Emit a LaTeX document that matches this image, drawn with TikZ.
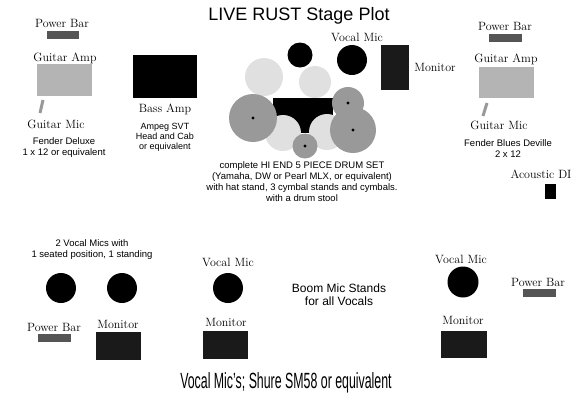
\documentclass[tikz,border=0pt]{standalone}
\usepackage{fontspec}
\setsansfont{Liberation Sans}
\usepackage{tikz}

\definecolor{barcol}{HTML}{555555}
\definecolor{ampcol}{HTML}{B4B4B4}
\definecolor{cymcol}{HTML}{E0E0E0}
\definecolor{tomcol}{HTML}{999999}
\definecolor{moncol}{HTML}{1A1A1A}

\tikzset{
  lbl/.style={inner sep=0pt, font=\fontsize{12}{13}\selectfont},
  note/.style={inner sep=0pt, align=center, font=\sffamily\fontsize{9.5}{11}\selectfont},
  bignote/.style={inner sep=0pt, align=center, font=\sffamily\fontsize{12}{13}\selectfont},
  title/.style={inner sep=0pt, font=\sffamily\fontsize{18}{20}\selectfont},
  micstick/.style={tomcol, line width=3pt},
}

\begin{document}
\begin{tikzpicture}[x=1pt,y=-1pt]
        \useasboundingbox (0,0) rectangle (582,400);
        \node [title] (title) at (299,16) {LIVE RUST Stage Plot};

        % left guitar
        \node [lbl] (pbarL) at (62,23) {Power Bar};
        \fill [barcol] (47,31) rectangle (79,39);
        \node [lbl] (gampL) at (65,58) {Guitar Amp};
        \fill [ampcol] (37,64) rectangle (92,96);
        \draw [micstick] (43,100)--(40,113);
        \node [lbl] (gmicL) at (56,124) {Guitar Mic};
        \node [note] (fenderL) at (64,148) {Fender Deluxe\\1 x 12 or equivalent};

        % bass
        \fill [black] (133,55) rectangle (197,98);
        \node [lbl] (bass) at (165,109) {Bass Amp};
        \node [note, font=\sffamily\fontsize{9}{10}\selectfont] (ampeg) at (165,137) {Ampeg SVT\\Head and Cab\\or equivalent};

        % drums
        \node [lbl] (vmD) at (357,37) {Vocal Mic};
        \fill [black] (300,55) circle (12.5);
        \fill [black] (352,60) circle (15);
        \fill [cymcol] (264,77) circle (19);
        \fill [cymcol] (315,82) circle (16);
        \fill [black] (273,98) rectangle (333,133);
        \fill [cymcol] (283,133) circle (18);
        \fill [cymcol] (327,132) circle (18);
        \fill [tomcol] (253,118) circle (24);
        \fill [tomcol] (305,146) circle (12.5);
        \fill [tomcol] (348,103) circle (16);
        \fill [tomcol] (353,130) circle (23);
        \foreach \p in {(253,118),(305,146),(348,103),(353,130)}
            \fill [black] \p circle (1.6);
        \node [note] (drumtxt) at (302,182) {complete HI END 5 PIECE DRUM SET\\(Yamaha, DW or Pearl MLX, or equivalent)\\with hat stand, 3 cymbal stands and cymbals.\\with a drum stool};

        % drum monitor
        \fill [moncol] (381,45) rectangle (409,90);
        \node [lbl] (monD) at (435,67) {Monitor};

        % right guitar
        \node [lbl] (pbarR) at (505,26) {Power Bar};
        \fill [barcol] (489,34) rectangle (522,42);
        \node [lbl] (gampR) at (506,59) {Guitar Amp};
        \fill [ampcol] (479,67) rectangle (534,98);
        \draw [micstick] (487,103)--(483,116);
        \node [lbl] (gmicR) at (499,125) {Guitar Mic};
        \node [note] (fenderR) at (508,149) {Fender Blues Deville\\2 x 12};
        \node [lbl] (adi) at (541,174) {Acoustic DI};
        \fill [black] (545,184) rectangle (556,199);

        % front line
        \node [note] (twovm) at (92,250) {2 Vocal Mics with\\1 seated position, 1 standing};
        \fill [black] (61,288) circle (15);
        \fill [black] (122,288) circle (15);
        \node [lbl] (vmC) at (228,262) {Vocal Mic};
        \fill [black] (228,288) circle (15);
        \node [bignote] (boom) at (339,295) {Boom Mic Stands\\for all Vocals};
        \node [lbl] (vmR) at (461,259) {Vocal Mic};
        \fill [black] (463,282) circle (15.5);
        \node [lbl] (pbarBR) at (538,282) {Power Bar};
        \fill [barcol] (523,289) rectangle (556,297);

        \node [lbl] (pbarBL) at (54,327) {Power Bar};
        \fill [barcol] (38,334) rectangle (71,342);
        \node [lbl] (monL) at (118,324) {Monitor};
        \fill [moncol] (96,332) rectangle (141,360);
        \node [lbl] (monC) at (226,322) {Monitor};
        \fill [moncol] (203,331) rectangle (248,359);
        \node [lbl] (monR) at (463,320) {Monitor};
        \fill [moncol] (441,331) rectangle (487,358);

        \node [inner sep=0pt] (sm58) at (286,383) {\scalebox{0.562}[1]{\sffamily\fontsize{22}{24}\selectfont Vocal Mic's; Shure SM58 or equivalent}};
\end{tikzpicture}
\end{document}
